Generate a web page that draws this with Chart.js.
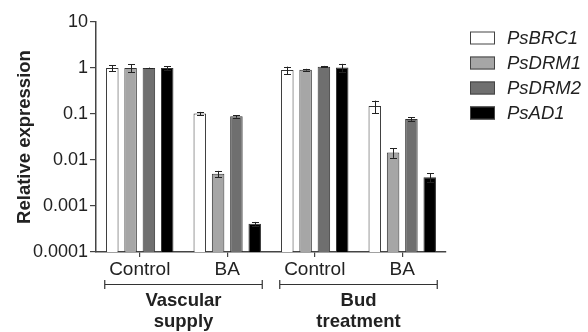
<!DOCTYPE html>
<html><head><meta charset="utf-8">
<script src="https://cdn.jsdelivr.net/npm/chart.js@4.4.0/dist/chart.umd.min.js"></script>
<style>html,body{margin:0;padding:0;background:#fff;}#wrap{width:588px;height:332px;}</style>
</head><body><div id="wrap"><canvas id="c" width="588" height="332"></canvas></div>
<script>
const categories = ['Control', 'BA', 'Control', 'BA'];
const groups = [['Vascular', 'supply'], ['Bud', 'treatment']];
const seriesNames = ['PsBRC1', 'PsDRM1', 'PsDRM2', 'PsAD1'];
const seriesColors = ['#ffffff', '#a6a6a6', '#6f6f6f', '#000000'];
const brc1 = [1.0, 0.103, 0.90, 0.15];
const drm1 = [1.0, 0.0050, 0.92, 0.0146];
const drm2 = [1.0, 0.089, 1.07, 0.078];
const ad1 = [1.0, 0.00041, 1.03, 0.0042];
const brc1Err = [0.15, 0.008, 0.17, 0.045];
const drm1Err = [0.2, 0.0008, 0.04, 0.0035];
const drm2Err = [0.02, 0.006, 0.04, 0.007];
const ad1Err = [0.1, 0.00004, 0.2, 0.0009];
const yTicks = [10, 1, 0.1, 0.01, 0.001, 0.0001];
const yTickLabels = ['10', '1', '0.1', '0.01', '0.001', '0.0001'];

const seriesValues = [brc1, drm1, drm2, ad1];
const seriesErrors = [brc1Err, drm1Err, drm2Err, ad1Err];
const FONT = "'Liberation Sans', Arial, sans-serif";
const TXT = '#222';

const errorBars = {
  id: 'errorBars',
  afterDatasetsDraw(chart) {
    const ctx = chart.ctx, ys = chart.scales.y;
    ctx.save();
    ctx.strokeStyle = '#222';
    ctx.lineWidth = 1;
    chart.data.datasets.forEach((ds, i) => {
      const meta = chart.getDatasetMeta(i);
      meta.data.forEach((el, j) => {
        const v = seriesValues[i][j], e = seriesErrors[i][j];
        const yt = ys.getPixelForValue(v + e);
        const yb = ys.getPixelForValue(Math.max(v - e, 1e-6));
        const x = Math.round(el.x) + 0.5;
        ctx.beginPath();
        ctx.moveTo(x, yt); ctx.lineTo(x, yb);
        ctx.moveTo(x - 3.5, Math.round(yt) + 0.5); ctx.lineTo(x + 3.5, Math.round(yt) + 0.5);
        ctx.moveTo(x - 3.5, Math.round(yb) + 0.5); ctx.lineTo(x + 3.5, Math.round(yb) + 0.5);
        ctx.stroke();
      });
    });
    ctx.restore();
  }
};

const groupBrackets = {
  id: 'groupBrackets',
  afterDraw(chart) {
    const ctx = chart.ctx, xs = chart.scales.x;
    const step = xs.getPixelForValue(1) - xs.getPixelForValue(0);
    const yLine = 284.5;
    ctx.save();
    ctx.strokeStyle = '#333';
    ctx.lineWidth = 1.2;
    ctx.fillStyle = TXT;
    ctx.textAlign = 'center';
    ctx.textBaseline = 'middle';
    ctx.font = 'bold 18.5px ' + FONT;
    groups.forEach((g, k) => {
      const x0 = xs.getPixelForValue(2 * k) - 0.40 * step;
      const x1 = xs.getPixelForValue(2 * k + 1) + 0.40 * step;
      ctx.beginPath();
      ctx.moveTo(x0, yLine); ctx.lineTo(x1, yLine);
      ctx.moveTo(x0, yLine - 4.5); ctx.lineTo(x0, yLine + 4.5);
      ctx.moveTo(x1, yLine - 4.5); ctx.lineTo(x1, yLine + 4.5);
      ctx.stroke();
      const cx = (x0 + x1) / 2;
      g.forEach((line, m) => ctx.fillText(line, cx, 301 + m * 21));
    });
    ctx.restore();
  }
};

const customLegend = {
  id: 'customLegend',
  afterDraw(chart) {
    const ctx = chart.ctx;
    ctx.save();
    ctx.font = 'italic 18.5px ' + FONT;
    ctx.textBaseline = 'middle';
    ctx.textAlign = 'left';
    seriesNames.forEach((name, i) => {
      const cy = 38 + i * 25;
      ctx.fillStyle = seriesColors[i];
      ctx.fillRect(470, cy - 6.5, 25, 13);
      ctx.strokeStyle = '#444';
      ctx.lineWidth = 1;
      ctx.strokeRect(470.5, cy - 6, 24, 12);
      ctx.fillStyle = TXT;
      ctx.fillText(name, 507, cy + 1);
    });
    ctx.restore();
  }
};

new Chart(document.getElementById('c'), {
  type: 'bar',
  data: {
    labels: categories,
    datasets: seriesNames.map((n, i) => ({
      label: n,
      data: seriesValues[i],
      backgroundColor: seriesColors[i],
      borderColor: '#333',
      borderWidth: 1,
      categoryPercentage: 0.837,
      barPercentage: 0.683
    }))
  },
  options: {
    responsive: false,
    animation: false,
    devicePixelRatio: 1,
    layout: { padding: { top: 22, right: 142, bottom: 0, left: 0 } },
    plugins: { legend: { display: false }, tooltip: { enabled: false } },
    scales: {
      x: {
        grid: { display: true, drawOnChartArea: false, drawTicks: true, tickLength: 5, offset: false, color: '#444', lineWidth: 1.2 },
        border: { display: true, color: '#444', width: 1.5 },
        ticks: { color: TXT, font: { family: FONT, size: 19 }, padding: 1, maxRotation: 0, autoSkip: false },
        afterFit(s) { s.height = 80; }
      },
      y: {
        type: 'logarithmic',
        min: 0.0001,
        max: 10,
        afterBuildTicks(s) { s.ticks = yTicks.map(v => ({ value: v })); },
        grid: { display: true, drawOnChartArea: false, drawTicks: true, tickLength: 6, color: '#444', lineWidth: 1.2 },
        border: { display: true, color: '#444', width: 1.5 },
        ticks: {
          color: TXT, font: { family: FONT, size: 18 }, padding: 2,
          callback(v) { const k = yTicks.indexOf(v); return k >= 0 ? yTickLabels[k] : ''; }
        },
        title: { display: true, text: 'Relative expression', color: TXT, font: { family: FONT, size: 18.5, weight: 'bold' }, padding: { top: 14, bottom: 0 } },
        afterFit(s) { s.width = 96; }
      }
    }
  },
  plugins: [errorBars, groupBrackets, customLegend]
});
</script></body></html>
